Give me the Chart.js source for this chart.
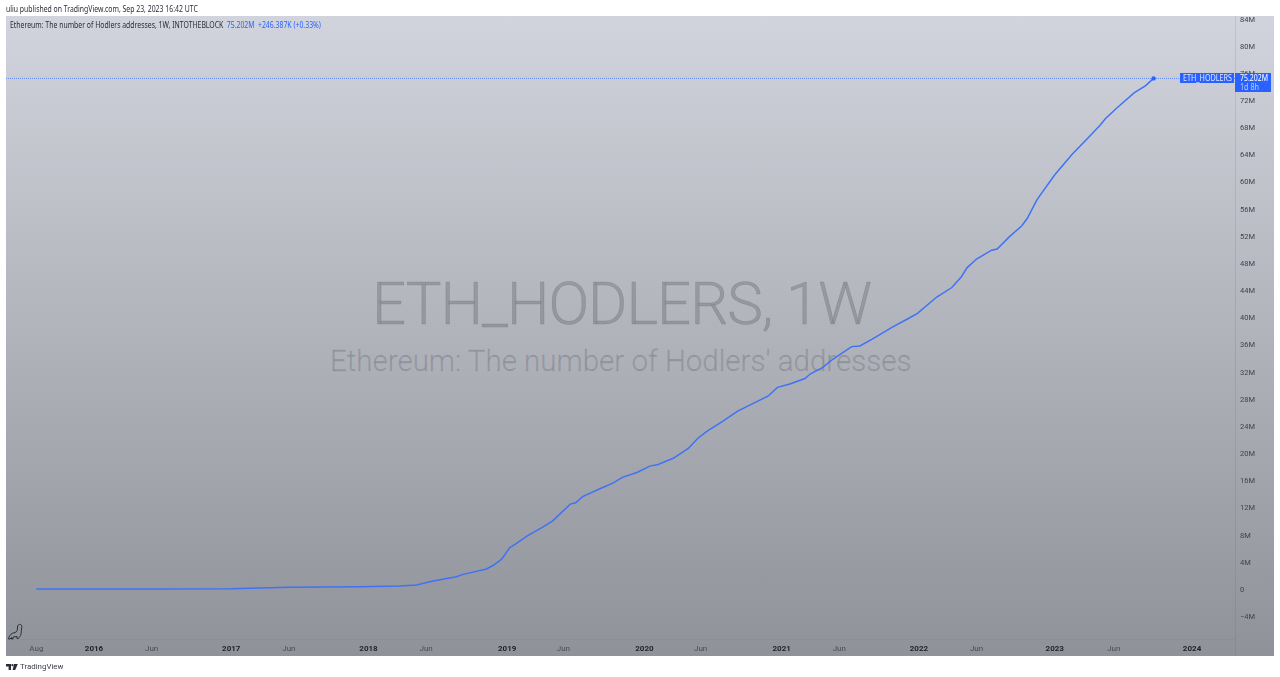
<!DOCTYPE html>
<html>
<head>
<meta charset="utf-8">
<title>ETH_HODLERS</title>
<script src="https://cdn.jsdelivr.net/npm/chart.js@4"></script>
<style>
  html, body { margin: 0; padding: 0; background: #fff; }
  body { position: relative; width: 1280px; height: 677px; overflow: hidden; font-family: Roboto, sans-serif; }
  #pane { position: absolute; left: 6px; top: 16px; width: 1268px; height: 640px;
          background: linear-gradient(to bottom, #d2d4dd 0%, #8f9299 100%); }
  #chart { position: absolute; left: 0; top: 0; }
  .txt { position: absolute; white-space: nowrap; }
  #published { left: 6px; top: 3px; font-size: 8.5px; line-height: 12px; color: #2a2e39; font-family: "Noto Sans", sans-serif; transform: scaleX(0.81); transform-origin: left center; }
  #legend { left: 10px; top: 19px; font-size: 8.5px; line-height: 12px; color: #2a2e39; font-family: "Noto Sans", sans-serif; transform: scaleX(0.81); transform-origin: left center; }
  #legend span { color: #2962ff; margin-left: 2px; }
  #wmTitle { left: 372px; top: 264px; font-size: 60px; line-height: 80px; font-weight: 300; letter-spacing: -1px; color: rgba(90, 92, 100, 0.33); -webkit-text-stroke: 0.5px rgba(90, 92, 100, 0.33); }
  #wmSub { left: 330px; top: 342px; font-size: 29.5px; line-height: 38px; font-weight: 300; color: rgba(90, 92, 100, 0.28); -webkit-text-stroke: 0.3px rgba(90, 92, 100, 0.28); }
  #brand { left: 20px; top: 660px; font-size: 7.9px; line-height: 13px; color: #3a3e49; }
  #logo { position: absolute; left: 6px; top: 664px; }
  #dino { position: absolute; left: 7px; top: 623px; }
</style>
</head>
<body>
<div id="pane"></div>
<div class="txt" id="wmTitle">ETH_HODLERS, 1W</div>
<div class="txt" id="wmSub">Ethereum: The number of Hodlers' addresses</div>
<canvas id="chart" width="1280" height="677"></canvas>
<div class="txt" id="published">uliu published on TradingView.com, Sep 23, 2023 16:42 UTC</div>
<div class="txt" id="legend">Ethereum: The number of Hodlers addresses, 1W, INTOTHEBLOCK <span>75.202M</span> <span>+246.387K (+0.33%)</span></div>
<svg id="dino" width="16" height="18" viewBox="0 0 16 18" fill="none" stroke="#2a2e39" stroke-width="1">
  <path d="M1.5 16 C2 12 5 10 8 9.5 C10 9 10.5 7 10.5 4 C10.5 2 12 1 13.5 1.5 C15 2 15 4 14.5 6 C14 10 14.5 13 11 15.5 L10 15.5 L10 13.5 L6 14 L6 16 L4.5 16 L4.5 14.5 L3 16 Z"/>
</svg>
<svg id="logo" width="12" height="6" viewBox="0 0 12 6" fill="#2a2e39">
  <path d="M0 0 H5 V6 H2.6 V2.4 H0 Z"/><circle cx="6.4" cy="1.2" r="1.1"/><path d="M8 0 H11.8 L9.2 6 H6.6 Z"/>
</svg>
<div class="txt" id="brand">TradingView</div>

<script>
// Weekly holders (year as decimal, value in millions)
const dates = [
  2015.58, 2016.0, 2016.42, 2017.0, 2017.43, 2017.94, 2018.23, 2018.35, 2018.47, 2018.64,
  2018.69, 2018.86, 2018.91, 2018.97, 2019.03, 2019.07, 2019.16, 2019.26, 2019.34, 2019.47,
  2019.51, 2019.56, 2019.69, 2019.78, 2019.85, 2019.96, 2020.05, 2020.11, 2020.22, 2020.33,
  2020.40, 2020.47, 2020.58, 2020.69, 2020.77, 2020.91, 2020.98, 2021.07, 2021.18, 2021.22,
  2021.31, 2021.38, 2021.52, 2021.58, 2021.67, 2021.82, 2021.93, 2022.0, 2022.14, 2022.25,
  2022.32, 2022.36, 2022.43, 2022.54, 2022.58, 2022.67, 2022.76, 2022.80, 2022.87, 2022.89,
  2023.0, 2023.13, 2023.24, 2023.33, 2023.37, 2023.45, 2023.58, 2023.66, 2023.72
];
const holders = [
  0.0, 0.0, 0.01, 0.03, 0.25, 0.33, 0.45, 0.6, 1.18, 1.8,
  2.16, 2.95, 3.5, 4.4, 6.1, 6.6, 7.85, 9.0, 10.0, 12.5,
  12.7, 13.6, 14.8, 15.6, 16.45, 17.2, 18.1, 18.35, 19.25, 20.7,
  22.2, 23.3, 24.7, 26.2, 27.0, 28.4, 29.7, 30.2, 31.0, 31.7,
  32.65, 33.8, 35.7, 35.8, 36.8, 38.6, 39.8, 40.6, 43.0, 44.4,
  46.0, 47.3, 48.6, 49.9, 50.07, 51.9, 53.5, 54.6, 57.3, 57.9,
  61.0, 64.1, 66.4, 68.3, 69.3, 70.8, 73.1, 74.1, 75.2
];

const xTicks = [2015.58, 2016, 2016.42, 2017, 2017.42, 2018, 2018.42, 2019.01, 2019.42, 2020.01, 2020.42, 2021.01, 2021.43, 2022.01, 2022.43, 2023, 2023.43, 2024];
const xLabels = ['Aug', '2016', 'Jun', '2017', 'Jun', '2018', 'Jun', '2019', 'Jun', '2020', 'Jun', '2021', 'Jun', '2022', 'Jun', '2023', 'Jun', '2024'];
const yTicks = [-4, 0, 4, 8, 12, 16, 20, 24, 28, 32, 36, 40, 44, 48, 52, 56, 60, 64, 68, 72, 76, 80, 84];

const xMin = 2015.359, xMax = 2024.313;
const yMin = -7.36, yMax = 84.39;

const lastDate = dates[dates.length - 1];
const lastValue = holders[holders.length - 1];
const blue = '#2962ff';

const isYear = (tick) => !!tick && /^\d{4}$/.test(tick.label);

// Separators and the last value tags on the price axis
const paneDecor = {
  id: 'paneDecor',
  beforeDatasetsDraw(chart) {
    const { ctx, chartArea: area } = chart;
    ctx.save();
    ctx.lineWidth = 1;
    ctx.strokeStyle = 'rgba(90, 94, 106, 0.16)';
    ctx.beginPath();
    ctx.moveTo(area.right + 0.5, area.top);
    ctx.lineTo(area.right + 0.5, 656);
    ctx.stroke();
    ctx.strokeStyle = 'rgba(90, 94, 106, 0.08)';
    ctx.beginPath();
    ctx.moveTo(area.left, area.bottom + 0.5);
    ctx.lineTo(area.right, area.bottom + 0.5);
    ctx.stroke();
    ctx.restore();
  },
  afterDraw(chart) {
    const { ctx, chartArea: area } = chart;
    const y = Math.round(chart.scales.y.getPixelForValue(lastValue));
    ctx.save();
    ctx.fillStyle = blue;
    ctx.fillRect(area.right - 55, y - 5, 54, 10);
    ctx.fillRect(area.right, y - 5, 36, 19);
    ctx.font = '8.5px "Noto Sans"';
    ctx.textBaseline = 'middle';
    ctx.textAlign = 'left';
    ctx.fillStyle = '#dfe7ff';
    ctx.fillText('ETH_HODLERS', area.right - 52, y + 0.5, 49);
    ctx.fillStyle = '#ffffff';
    ctx.fillText('75.202M', area.right + 5, y + 0.5, 28);
    ctx.fillStyle = '#b9ccff';
    ctx.fillText('1d 8h', area.right + 5, y + 9.5, 19);
    ctx.restore();
  }
};

new Chart(document.getElementById('chart'), {
  type: 'line',
  data: {
    datasets: [
      {
        label: 'ETH_HODLERS',
        data: dates.map((d, i) => ({ x: d, y: holders[i] })),
        borderColor: '#3f72f5',
        borderWidth: 1.5,
        pointRadius: dates.map((d) => (d === lastDate ? 2.2 : 0)),
        pointBackgroundColor: blue,
        pointBorderWidth: 0
      },
      {
        label: 'Last value',
        data: [{ x: xMin, y: lastValue }, { x: xMax, y: lastValue }],
        borderColor: 'rgba(41, 98, 255, 0.65)',
        borderWidth: 1,
        borderDash: [1, 1],
        pointRadius: 0
      }
    ]
  },
  plugins: [paneDecor],
  options: {
    responsive: false,
    animation: false,
    layout: { padding: { left: 6, top: 16, right: 6, bottom: 21 } },
    plugins: { legend: { display: false }, tooltip: { enabled: false } },
    scales: {
      x: {
        type: 'linear',
        min: xMin,
        max: xMax,
        grid: { display: false, drawTicks: false },
        border: { display: false },
        afterBuildTicks: (axis) => { axis.ticks = xTicks.map((value) => ({ value })); },
        afterFit: (axis) => { axis.height = 17; },
        ticks: {
          autoSkip: false,
          maxRotation: 0,
          padding: 5,
          callback: (value) => xLabels[xTicks.indexOf(value)],
          color: (c) => (isYear(c.tick) ? '#1e222d' : '#474b57'),
          font: (c) => ({ family: 'Roboto', size: 8, weight: isYear(c.tick) ? 'bold' : 'normal' })
        }
      },
      y: {
        position: 'right',
        min: yMin,
        max: yMax,
        grid: { display: false, drawTicks: false },
        border: { display: false },
        afterBuildTicks: (axis) => { axis.ticks = yTicks.map((value) => ({ value })); },
        afterFit: (axis) => { axis.width = 39; },
        ticks: {
          autoSkip: false,
          padding: 5,
          labelOffset: 1,
          callback: (value) => (value < 0 ? '\u2212' + Math.abs(value) : value) + (value === 0 ? '' : 'M'),
          color: '#3f434f',
          font: { family: 'Roboto', size: 7.5 }
        }
      }
    }
  }
});
</script>
</body>
</html>
